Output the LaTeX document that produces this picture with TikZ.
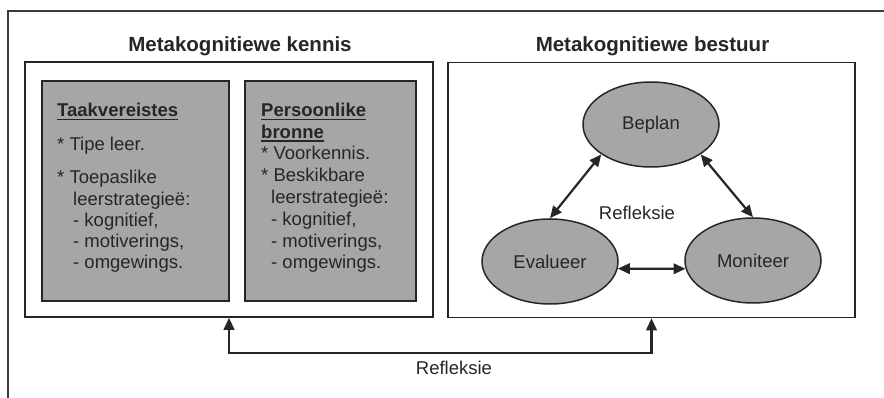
\documentclass[tikz,border=0pt]{standalone}
\usepackage{fontspec}
\setmainfont{Liberation Sans}
\usetikzlibrary{arrows.meta,shapes.geometric}
\definecolor{ink}{HTML}{262626}
\definecolor{panel}{HTML}{A6A6A6}
% bold heading with a heavy underline
\newcommand\headul[1]{\setbox0\hbox{\bfseries #1}\leavevmode\rlap{\rule[-3.4pt]{\wd0}{1.7pt}}\box0}
\begin{document}
\begin{tikzpicture}[x=1pt,y=-1pt,
  every node/.style={text=ink, inner sep=0pt},
  box/.style={rectangle, draw=ink, line width=1.5pt},
  panelbox/.style={box, fill=panel},
  stage/.style={ellipse, draw=ink, line width=1.5pt, fill=panel,
    minimum width=136pt, minimum height=85pt, font=\fontsize{18.5}{22}\selectfont},
  body/.style={anchor=base west, font=\fontsize{18.5}{22}\selectfont},
  title/.style={font=\fontsize{20.5}{24}\selectfont\bfseries},
  tip/.tip={Triangle[length=12pt,width=10.5pt]},
  link/.style={draw=ink, line width=2.2pt, tip-tip},
  framecol/.style={draw=ink!90, line width=1.3pt}]
\useasboundingbox (0,0) rectangle (884,398);

% outer frame
\draw[framecol] (8,398) -- (8,11) -- (884,11);

% titles
\node[title] (tk) at (240,46) {Metakognitiewe kennis};
\node[title] (tb) at (652.5,46) {Metakognitiewe bestuur};

% the two main panels
\node[box, minimum width=408pt, minimum height=255pt] (kennis) at (229,189.5) {};
\node[box, minimum width=407pt, minimum height=255pt] (bestuur) at (651.5,190) {};

% grey boxes of knowledge
\node[panelbox, minimum width=187pt, minimum height=220pt] (taak) at (135.5,191) {};
\node[panelbox, minimum width=171pt, minimum height=220pt] (pers) at (330.5,191) {};

% text of the first grey box
\node[body] (t1) at (57,117) {\headul{Taakvereistes}};
\node[body] (t2) at (57,151) {*\ Tipe leer.};
\node[body] (t3) at (57,184) {*\ Toepaslike};
\node[body] (t4) at (73,205.5) {leerstrategieë:};
\node[body] (t5) at (73,227) {- kognitief,};
\node[body] (t6) at (73,248) {- motiverings,};
\node[body] (t7) at (73,269) {- omgewings.};

% text of the second grey box
\node[body] (p1) at (261,117) {\headul{Persoonlike}};
\node[body] (p2) at (261,138.5) {\headul{bronne}};
\node[body] (p3) at (261,160) {*\ Voorkennis.};
\node[body] (p4) at (261,182) {*\ Beskikbare};
\node[body] (p5) at (271,204) {leerstrategieë:};
\node[body] (p6) at (271,226) {- kognitief,};
\node[body] (p7) at (271,247.5) {- motiverings,};
\node[body] (p8) at (271,269) {- omgewings.};

% regulation cycle
\node[stage] (bep) at (651,124.5) {Beplan};
\node[stage] (eva) at (550,261.5) {Evalueer};
\node[stage] (mon) at (753,260.5) {Moniteer};
\node[font=\fontsize{18.5}{22}\selectfont] (rm) at (637,213) {Refleksie};

\draw[link] (bep.211) -- (eva.north);
\draw[link] (bep.329) -- (mon.north);
\draw[link] (eva.-6) -- (mon.187);

% reflection loop between the panels
\coordinate (fb) at (440,353);
\draw[link] (kennis.south) |- (fb) -| (bestuur.south);
\node[font=\fontsize{18.5}{22}\selectfont] (rb) at (454,368) {Refleksie};
\end{tikzpicture}
\end{document}
